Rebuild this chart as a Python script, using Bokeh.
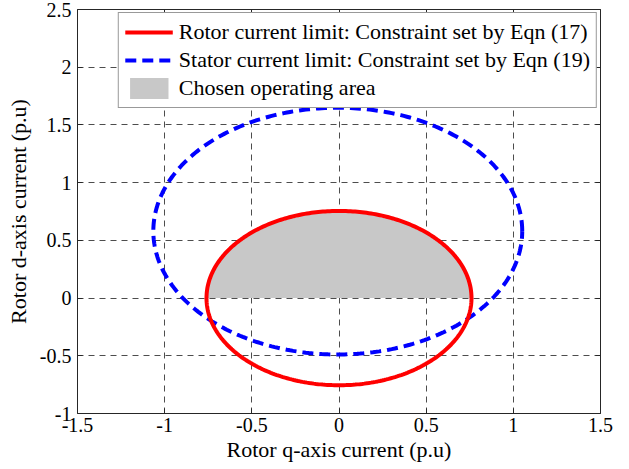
import numpy as np
from bokeh.plotting import figure
from bokeh.models import (LinearAxis, Legend, LegendItem, FixedTicker, Range1d)
from bokeh.embed import file_html
from bokeh.resources import INLINE

# Axis ticks
x_ticks = [-1.5, -1.0, -0.5, 0.0, 0.5, 1.0, 1.5]
y_ticks = [-1.0, -0.5, 0.0, 0.5, 1.0, 1.5, 2.0, 2.5]
x_tick_labels = ["-1.5", "-1", "-0.5", "0", "0.5", "1", "1.5"]
y_tick_labels = ["-1", "-0.5", "0", "0.5", "1", "1.5", "2", "2.5"]

# Rotor current limit (Eqn 17): centre and semi-axes in p.u.
rotor_center = [0.0, 0.0]
rotor_semi_axes = [0.76, 0.755]

# Stator current limit (Eqn 19): centre and semi-axes in p.u.
stator_center = [-0.007, 0.58]
stator_semi_axes = [1.058, 1.069]

labels = ["Rotor current limit: Constraint set by Eqn (17)",
          "Stator current limit: Constraint set by Eqn (19)",
          "Chosen operating area"]

FONT = "Liberation Serif"


def ellipse_outline(center, semi_axes, t0=0.0, t1=2 * np.pi, n=361):
    """Points on an ellipse boundary between parametric angles t0 and t1."""
    t = np.linspace(t0, t1, n)
    return (center[0] + semi_axes[0] * np.cos(t),
            center[1] + semi_axes[1] * np.sin(t))


p = figure(width=629, height=469, output_backend="svg", toolbar_location=None,
           x_range=Range1d(-1.5, 1.5), y_range=Range1d(-1.0, 2.5),
           min_border_left=77, min_border_right=29, min_border_top=9,
           min_border_bottom=56, background_fill_color="white",
           border_fill_color="white")
p.outline_line_color = None

# Chosen operating area: upper half (d >= 0) of the rotor limit
area_x, area_y = ellipse_outline(rotor_center, rotor_semi_axes, 0.0, np.pi, 181)
area = p.patch(area_x, np.maximum(area_y, 0.0), fill_color="#c8c8c8",
               line_color=None)

sx, sy = ellipse_outline(stator_center, stator_semi_axes)
stator = p.line(sx, sy, line_color="#0000ff", line_width=4, line_dash="11 6")

rx, ry = ellipse_outline(rotor_center, rotor_semi_axes)
rotor = p.line(rx, ry, line_color="#ff0000", line_width=4)

# Axes, boxed with inward ticks on all four sides
p.add_layout(LinearAxis(), "above")
p.add_layout(LinearAxis(), "right")

for ax in p.xaxis:
    ax.ticker = FixedTicker(ticks=x_ticks)
    ax.major_label_overrides = {t: s for t, s in zip(x_ticks, x_tick_labels)}
for ax in p.yaxis:
    ax.ticker = FixedTicker(ticks=y_ticks)
    ax.major_label_overrides = {t: s for t, s in zip(y_ticks, y_tick_labels)}

for ax in p.xaxis + p.yaxis:
    ax.major_tick_in = 5
    ax.major_tick_out = 0
    ax.minor_tick_line_color = None
    ax.axis_line_color = "#262626"
    ax.major_tick_line_color = "#262626"
    ax.major_label_text_font = FONT
    ax.major_label_text_font_size = "20px"
    ax.major_label_text_color = "black"
    ax.axis_label_text_font = FONT
    ax.axis_label_text_font_size = "22px"
    ax.axis_label_text_font_style = "normal"
    ax.axis_label_text_color = "black"

# Top and right axes carry ticks only
p.above[0].major_label_overrides = {t: "" for t in x_ticks}
p.right[0].major_label_overrides = {t: "" for t in y_ticks}
for ax in (p.above[0], p.right[0]):
    ax.major_label_standoff = 0

p.below[0].axis_label = "Rotor q-axis current (p.u)"
p.below[0].major_label_standoff = 4
p.below[0].axis_label_standoff = 2
p.left[0].axis_label = "Rotor d-axis current (p.u)"
p.left[0].major_label_standoff = 6
p.left[0].axis_label_standoff = 6

# Dashed grid
for g in (p.xgrid, p.ygrid):
    g.grid_line_color = "#4d4d4d"
    g.grid_line_width = 1
    g.grid_line_dash = "6 5"
p.xgrid.ticker = FixedTicker(ticks=x_ticks)
p.ygrid.ticker = FixedTicker(ticks=y_ticks)

legend = Legend(items=[LegendItem(label=labels[0], renderers=[rotor]),
                       LegendItem(label=labels[1], renderers=[stator]),
                       LegendItem(label=labels[2], renderers=[area])],
                location="top_right", margin=3, padding=6, spacing=2,
                glyph_width=48, glyph_height=26, label_standoff=6,
                label_text_font=FONT, label_text_font_size="22px",
                label_text_color="black", border_line_color="#333333",
                border_line_width=1, background_fill_color="white",
                background_fill_alpha=1.0)
p.add_layout(legend)

open("out.html", "w").write(file_html(p, INLINE))
